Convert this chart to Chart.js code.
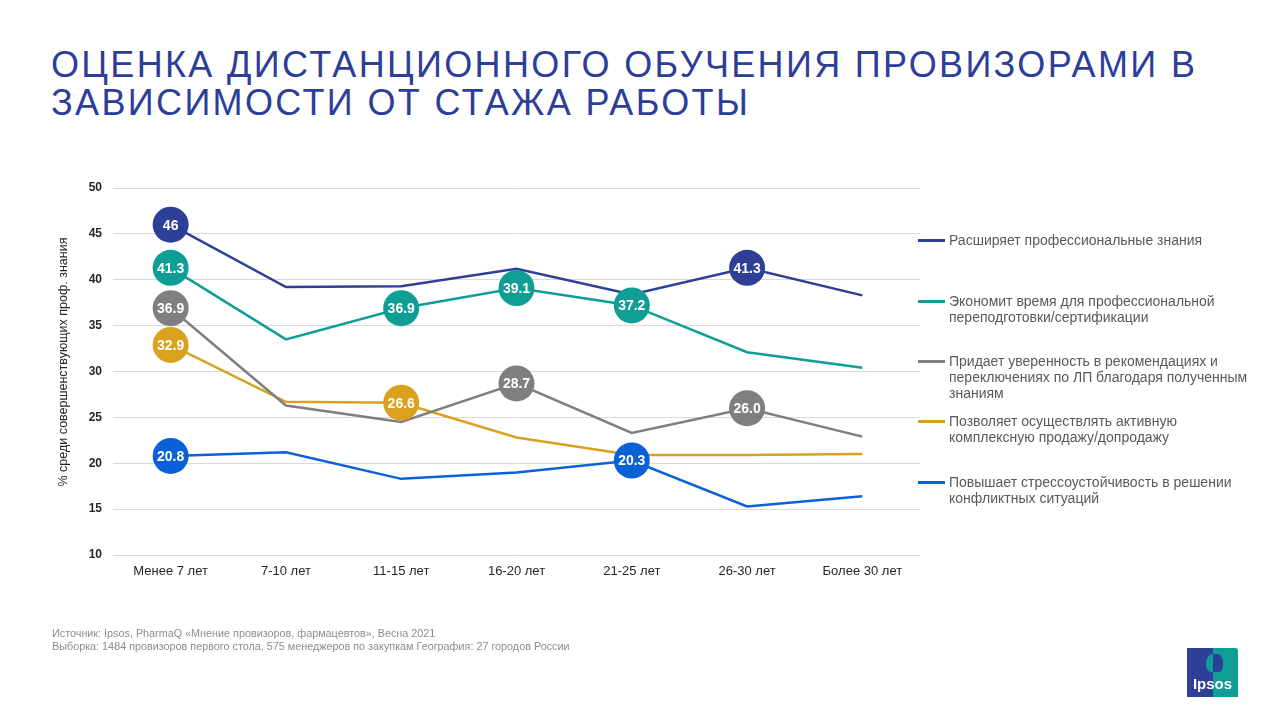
<!DOCTYPE html>
<html><head><meta charset="utf-8">
<script src="https://cdn.jsdelivr.net/npm/chart.js@4.4.1/dist/chart.umd.min.js"></script>
<style>
html,body{margin:0;padding:0;background:#fff;width:1280px;height:720px;overflow:hidden;font-family:"Liberation Sans",Arial,sans-serif;}
#title{position:absolute;left:51px;top:46px;font-size:36px;line-height:38px;color:#2d3e99;letter-spacing:2.35px;white-space:nowrap;}
#wrap{position:absolute;left:0;top:0;width:1280px;height:720px;}
.leg{position:absolute;left:918px;font-size:14px;line-height:16px;color:#595959;white-space:nowrap;}
.leg .sw{position:absolute;left:0;top:7px;width:27px;height:2.5px;}
.leg .tx{position:absolute;left:31px;top:0;width:340px;}
#src{position:absolute;left:52px;top:627px;font-size:10.8px;line-height:13px;color:#8c8c8c;white-space:nowrap;}
#logo{position:absolute;left:1187px;top:648px;width:51px;height:49px;overflow:hidden;}
</style></head><body>
<div id="title">ОЦЕНКА ДИСТАНЦИОННОГО ОБУЧЕНИЯ ПРОВИЗОРАМИ В<br>ЗАВИСИМОСТИ ОТ СТАЖА РАБОТЫ</div>
<div id="wrap"><canvas id="c" width="1280" height="720"></canvas></div>
<div id="legend"></div>
<div id="src">Источник: Ipsos, PharmaQ «Мнение провизоров, фармацевтов», Весна 2021<br>Выборка: 1484 провизоров первого стола, 575 менеджеров по закупкам География: 27 городов России</div>
<div id="logo">
  <div style="position:absolute;left:0;top:0;width:26px;height:49px;background:#2e3f98"></div>
  <div style="position:absolute;left:26px;top:0;width:25px;height:49px;background:#0e9e96;border-top-right-radius:3px"></div>
  <div style="position:absolute;left:19px;top:6px;width:14px;height:18px;border-radius:50% 50% 40% 40%;background:#0e9e96"></div>
  <div style="position:absolute;left:26px;top:6px;width:10px;height:18px;border-radius:0 50% 40% 0;background:#2e3f98"></div>
  <div style="position:absolute;left:0;top:27px;width:51px;text-align:center;color:#fff;font-weight:bold;font-size:15px;font-family:'Liberation Sans',Arial,sans-serif;">Ipsos</div>
</div>
<script>
const categories = ["Менее 7 лет","7-10 лет","11-15 лет","16-20 лет","21-25 лет","26-30 лет","Более 30 лет"];
const seriesNames = [
  "Расширяет профессиональные знания",
  "Экономит время для профессиональной переподготовки/сертификации",
  "Придает уверенность в рекомендациях и переключениях по ЛП благодаря полученным знаниям",
  "Позволяет осуществлять активную комплексную продажу/допродажу",
  "Повышает стрессоустойчивость в решении конфликтных ситуаций"
];
const legendLines = [
  ["Расширяет профессиональные знания"],
  ["Экономит время для профессиональной","переподготовки/сертификации"],
  ["Придает уверенность в рекомендациях и","переключениях по ЛП благодаря полученным","знаниям"],
  ["Позволяет осуществлять активную","комплексную продажу/допродажу"],
  ["Повышает стрессоустойчивость в решении","конфликтных ситуаций"]
];
const expands   = [46, 39.2, 39.3, 41.2, 38.4, 41.3, 38.3];
const saveTime  = [41.3, 33.5, 36.9, 39.1, 37.2, 32.1, 30.4];
const confidence= [36.9, 26.3, 24.5, 28.7, 23.3, 26.0, 22.9];
const sales     = [32.9, 26.7, 26.6, 22.8, 20.9, 20.9, 21.0];
const stress    = [20.8, 21.2, 18.3, 19.0, 20.3, 15.3, 16.4];
// bubble labels (null = no bubble)
const expandsLabels    = ["46", null, null, null, null, "41.3", null];
const saveTimeLabels   = ["41.3", null, "36.9", "39.1", "37.2", null, null];
const confidenceLabels = ["36.9", null, null, "28.7", null, "26.0", null];
const salesLabels      = ["32.9", null, "26.6", null, null, null, null];
const stressLabels     = ["20.8", null, null, null, "20.3", null, null];
const yTicks = [10, 15, 20, 25, 30, 35, 40, 45, 50];
const yTitle = "% среди совершенствующих проф. знания";
const colors = ["#2e3f98", "#0f9e96", "#7f7f7f", "#d9a11e", "#0a60d6"];

const allData = [expands, saveTime, confidence, sales, stress];
const allLabels = [expandsLabels, saveTimeLabels, confidenceLabels, salesLabels, stressLabels];

// HTML legend
const legendTops = [232, 293, 353, 413, 474];
const lg = document.getElementById('legend');
legendLines.forEach((lines, i) => {
  const d = document.createElement('div');
  d.className = 'leg';
  d.style.top = legendTops[i] + 'px';
  d.innerHTML = '<div class="sw" style="background:' + colors[i] + '"></div><div class="tx">' + lines.join('<br>') + '</div>';
  lg.appendChild(d);
});

const bubblePlugin = {
  id: 'bubbles',
  afterDatasetsDraw(chart) {
    const ctx = chart.ctx;
    ctx.save();
    chart.data.datasets.forEach((ds, di) => {
      const meta = chart.getDatasetMeta(di);
      ds.bubbleLabels.forEach((lab, i) => {
        if (lab === null) return;
        const pt = meta.data[i];
        ctx.beginPath();
        ctx.arc(pt.x, pt.y, 18, 0, Math.PI * 2);
        ctx.fillStyle = ds.borderColor;
        ctx.fill();
        ctx.fillStyle = '#ffffff';
        ctx.font = 'bold 14px "Liberation Sans", Arial, sans-serif';
        ctx.textAlign = 'center';
        ctx.textBaseline = 'middle';
        ctx.fillText(lab, pt.x, pt.y + 1);
      });
    });
    ctx.restore();
  }
};

const yTitlePlugin = {
  id: 'ytitle',
  afterDraw(chart) {
    const ctx = chart.ctx;
    ctx.save();
    ctx.translate(64, 362);
    ctx.rotate(-Math.PI / 2);
    ctx.fillStyle = '#262626';
    ctx.font = '12.5px "Liberation Sans", Arial, sans-serif';
    ctx.textAlign = 'center';
    ctx.textBaseline = 'middle';
    ctx.fillText(yTitle, 0, 0);
    ctx.restore();
  }
};

new Chart(document.getElementById('c'), {
  type: 'line',
  data: {
    labels: categories,
    datasets: allData.map((d, i) => ({
      label: seriesNames[i],
      data: d,
      bubbleLabels: allLabels[i],
      borderColor: colors[i],
      backgroundColor: colors[i],
      borderWidth: 2.5,
      pointRadius: 0,
      tension: 0,
      fill: false
    }))
  },
  options: {
    responsive: false,
    animation: false,
    devicePixelRatio: 1,
    layout: { padding: { left: 48, right: 360, top: 188, bottom: 130 } },
    plugins: { legend: { display: false }, tooltip: { enabled: false } },
    scales: {
      x: {
        offset: true,
        grid: { display: false, drawTicks: false },
        border: { display: false },
        ticks: { color: '#262626', font: { size: 13, family: '"Liberation Sans", Arial, sans-serif' }, padding: 9, maxRotation: 0 },
        afterFit(s) { s.height = 35; }
      },
      y: {
        min: 10, max: 50,
        afterBuildTicks(s) { s.ticks = yTicks.map(v => ({ value: v })); },
        grid: { color: '#d9d9d9', lineWidth: 1, drawTicks: false },
        border: { display: false },
        ticks: { color: '#262626', font: { size: 12, weight: 'bold', family: '"Liberation Sans", Arial, sans-serif' }, padding: 11 },
        afterFit(s) { s.width = 65; }
      }
    }
  },
  plugins: [bubblePlugin, yTitlePlugin]
});
</script>
</body></html>
